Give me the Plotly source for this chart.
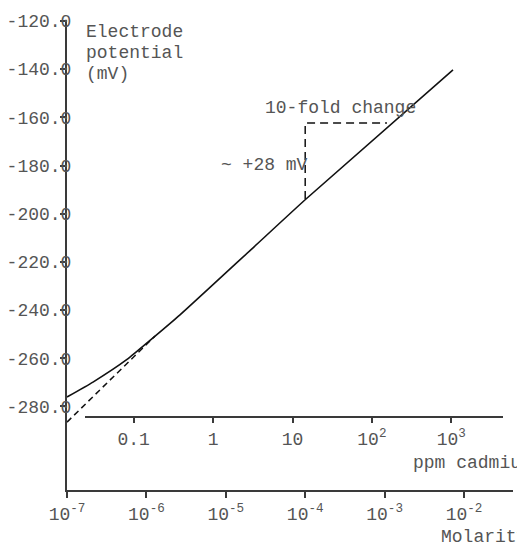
import plotly.graph_objects as go

# ---- data ----
curve_logM = [-7.0, -6.6725, -6.2443, -5.9547, -5.5768, -4.6952, -3.9899, -2.1385]
curve_mV = [-276.1, -269.9, -260.5, -252.6, -242.0, -215.3, -193.9, -140.3]

extrap_logM = [-7.0, -5.892]
extrap_mV = [-286.5, -250.8]

fold_logM = [-4.0, -4.0, -2.97]
fold_mV = [-193.9, -162.3, -162.3]

y_ticks = [-120, -140, -160, -180, -200, -220, -240, -260, -280]
y_ticktext = ["-120.0", "-140.0", "-160.0", "-180.0", "-200.0", "-220.0", "-240.0", "-260.0", "-280.0"]

molar_ticks = [1e-7, 1e-6, 1e-5, 1e-4, 1e-3, 1e-2]
molar_ticktext = ["10<sup>-7</sup>", "10<sup>-6</sup>", "10<sup>-5</sup>", "10<sup>-4</sup>",
                  "10<sup>-3</sup>", "10<sup>-2</sup>"]

ppm_ticks = [0.1, 1, 10, 100, 1000]
ppm_ticktext = ["0.1", "1", "10", "10<sup>2</sup>", "10<sup>3</sup>"]
PPM_LOG_OFFSET = 5.16  # log10(ppm) = log10(M) + offset, as drawn

FONT = "Liberation Mono, Courier New, monospace"
TXT = "#555555"
AX = "#3a3a3a"

OFF = 8  # page body margin
W, H = 525 - OFF, 544 - OFF
PX0, PX1, PY0, PY1 = 67, 513, 20, 490  # plot area in window pixels
L, R, T, B = PX0 - OFF, 525 - PX1, PY0 - OFF, 544 - PY1
pw, ph = PX1 - PX0, PY1 - PY0

fig = go.Figure()
fig.add_trace(go.Scatter(x=[10 ** v for v in curve_logM], y=curve_mV, mode="lines",
                         line=dict(color="#111111", width=1.6, shape="spline", smoothing=0.5),
                         hoverinfo="skip", showlegend=False))
fig.add_trace(go.Scatter(x=[10 ** v for v in extrap_logM], y=extrap_mV, mode="lines",
                         line=dict(color="#111111", width=1.5, dash="6px,4px"),
                         hoverinfo="skip", showlegend=False))
fig.add_trace(go.Scatter(x=[10 ** v for v in fold_logM], y=fold_mV, mode="lines",
                         line=dict(color="#111111", width=1.5, dash="8px,5px"),
                         hoverinfo="skip", showlegend=False))
# carrier for the ppm axis
fig.add_trace(go.Scatter(x=ppm_ticks, y=[None] * len(ppm_ticks), xaxis="x2", yaxis="y",
                         mode="markers", marker=dict(opacity=0), hoverinfo="skip", showlegend=False))

x_lo = -7.0
x_hi = -7.0 + pw / 79.4
y_lo = -120 - (PY1 - 21) / 2.409
y_hi = -120 + (21 - PY0) / 2.409

ppm_d0 = (85 - PX0) / pw
ppm_d1 = (503 - PX0) / pw
ppm_lo = (x_lo + (85 - PX0) / 79.4) + PPM_LOG_OFFSET
ppm_hi = (x_lo + (503 - PX0) / 79.4) + PPM_LOG_OFFSET

fig.update_layout(
    width=W, height=H,
    margin=dict(l=L, r=R, t=T, b=B, pad=0, autoexpand=False),
    paper_bgcolor="white", plot_bgcolor="rgba(0,0,0,0)",
    font=dict(family=FONT, size=18, color=TXT),
    xaxis=dict(type="log", range=[x_lo, x_hi], showgrid=False, zeroline=False,
               showline=True, linecolor=AX, linewidth=2, automargin=False,
               ticks="outside", ticklen=6, tickwidth=2, tickcolor=AX,
               tickvals=molar_ticks, ticktext=molar_ticktext,
               tickfont=dict(family=FONT, size=18, color=TXT)),
    xaxis2=dict(type="log", range=[ppm_lo, ppm_hi], domain=[ppm_d0, ppm_d1],
                anchor="free", position=(PY1 - 417) / ph, automargin=False,
                showgrid=False, zeroline=False,
                showline=True, linecolor=AX, linewidth=2,
                ticks="outside", ticklen=5, tickwidth=2, tickcolor=AX,
                tickvals=ppm_ticks, ticktext=ppm_ticktext,
                tickfont=dict(family=FONT, size=18, color=TXT)),
    yaxis=dict(range=[y_lo, y_hi], showgrid=False, zeroline=False,
               showline=True, linecolor=AX, linewidth=2, automargin=False,
               ticks="outside", ticklen=5, tickwidth=1.5, tickcolor=AX,
               tickvals=y_ticks, ticktext=y_ticktext, ticklabelstandoff=-15,
               tickfont=dict(family=FONT, size=18, color=TXT)),
)


def px_x(p):
    return (p - PX0) / pw


def px_y(p):
    return (PY1 - p) / ph


ann = [
    ("Electrode", 84, 32, "left"),
    ("potential", 84, 53, "left"),
    ("(mV)", 84, 74, "left"),
    ("10-fold change", 340, 108, "center"),
    ("~ +28 mV", 264, 165, "center"),
    ("ppm cadmium", 411, 463, "left"),
    ("Molarity", 439, 537, "left"),
]
for text, ax_, ay_, anc in ann:
    fig.add_annotation(text=text, x=px_x(ax_), y=px_y(ay_), xref="paper", yref="paper",
                       xanchor=anc, yanchor="middle", showarrow=False,
                       font=dict(family=FONT, size=18, color=TXT))

fig.write_html("out.html")
